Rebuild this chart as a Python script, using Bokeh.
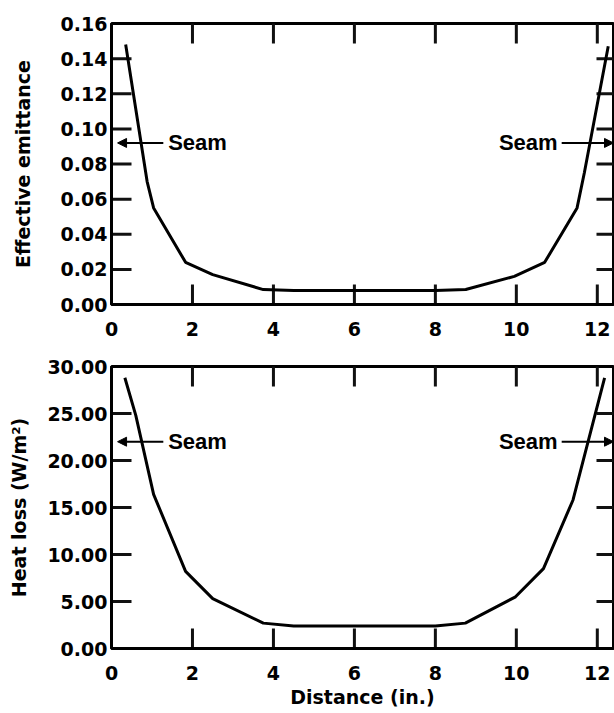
from bokeh.plotting import figure
from bokeh.models import Arrow, NormalHead, FixedTicker, Range1d, Label, CustomJSTickFormatter
from bokeh.layouts import column
from bokeh.embed import file_html
from bokeh.resources import INLINE

# ---- data ----
dist_top = [0.35, 0.88, 1.04, 1.83, 2.5, 3.75, 4.5, 6.25, 8.0, 8.75, 9.95, 10.7, 11.5, 11.68, 12.27]
emittance = [0.148, 0.070, 0.055, 0.024, 0.017, 0.0085, 0.008, 0.008, 0.008, 0.0085, 0.016, 0.024, 0.055, 0.075, 0.147]

dist_bot = [0.33, 0.6, 1.04, 1.83, 2.5, 3.75, 4.5, 6.25, 8.0, 8.74, 9.98, 10.67, 11.4, 12.18]
heat_loss = [28.8, 24.8, 16.4, 8.2, 5.3, 2.7, 2.4, 2.4, 2.4, 2.7, 5.5, 8.5, 15.8, 28.8]

x_ticks = [0, 2, 4, 6, 8, 10, 12]
y_ticks_top = [0.0, 0.02, 0.04, 0.06, 0.08, 0.10, 0.12, 0.14, 0.16]
y_ticks_bot = [0, 5, 10, 15, 20, 25, 30]

X_MAX = 12.4
Y_MAX_TOP = 0.16
Y_MAX_BOT = 30

# seam annotations
seam_y_top = 0.092
seam_y_bot = 22.0
seam_left = dict(x0=1.28, x1=0.15, tx=1.40)
seam_right = dict(x0=11.12, x1=12.40, tx=11.02)

FONT = "DejaVu Sans"
FW = 502
TICK_FILL = "#111111"


def style(p, yticks, ymax):
    p.xaxis.ticker = FixedTicker(ticks=x_ticks)
    p.yaxis.ticker = FixedTicker(ticks=yticks)
    for ax in p.axis:
        ax.axis_line_width = 3
        ax.axis_line_color = "black"
        ax.major_tick_line_color = None
        ax.major_tick_in = 0
        ax.major_tick_out = 0
        ax.minor_tick_line_color = None
        ax.major_label_text_font = FONT
        ax.major_label_text_font_style = "bold"
        ax.major_label_text_font_size = "19px"
        ax.major_label_text_color = "black"
        ax.axis_label_text_font = FONT
        ax.axis_label_text_font_style = "bold"
        ax.axis_label_text_font_size = "19px"
        ax.axis_label_text_color = "black"
    p.yaxis.formatter = CustomJSTickFormatter(code="return tick.toFixed(2);")
    p.xaxis.major_label_standoff = 17
    p.yaxis.major_label_standoff = 4
    p.xgrid.grid_line_color = None
    p.ygrid.grid_line_color = None
    p.outline_line_color = "black"
    p.outline_line_width = 3
    # inward ticks: rectangles centred on the frame edges (clipped to the frame),
    # sized in screen pixels
    inner_y = [t for t in yticks if 0 < t < ymax]
    inner_x = [t for t in x_ticks if 0 < t < X_MAX]
    n, m = len(inner_y), len(inner_x)
    p.rect(x=[0.0] * n, y=inner_y, width=40, height=3, width_units="screen", height_units="screen",
           fill_color=TICK_FILL, line_color=None)
    p.rect(x=[X_MAX] * n, y=inner_y, width=34, height=3, width_units="screen", height_units="screen",
           fill_color=TICK_FILL, line_color=None)
    p.rect(x=inner_x, y=[0.0] * m, width=3, height=40, width_units="screen", height_units="screen",
           fill_color=TICK_FILL, line_color=None)
    p.rect(x=inner_x, y=[ymax] * m, width=3, height=40, width_units="screen", height_units="screen",
           fill_color=TICK_FILL, line_color=None)


def seams(p, y):
    for s, align in ((seam_left, "left"), (seam_right, "right")):
        p.add_layout(Arrow(end=NormalHead(size=9, fill_color="black", line_color="black", line_width=1),
                           x_start=s["x0"], y_start=y, x_end=s["x1"], y_end=y,
                           line_width=2, line_color="black"))
        p.add_layout(Label(x=s["tx"], y=y, text="Seam", text_align=align, text_baseline="middle",
                           text_font="Liberation Sans", text_font_style="bold",
                           text_font_size="22px", text_color="black"))


p1 = figure(frame_width=FW, frame_height=281, output_backend="svg", toolbar_location=None,
            x_range=Range1d(0, X_MAX), y_range=Range1d(0, Y_MAX_TOP),
            min_border_left=111, min_border_top=23, min_border_right=1, min_border_bottom=10)
style(p1, y_ticks_top, Y_MAX_TOP)
p1.line(dist_top, emittance, line_width=3, line_color="black")
p1.yaxis.axis_label = "Effective emittance"
p1.yaxis.axis_label_standoff = 24
seams(p1, seam_y_top)

p2 = figure(frame_width=FW, frame_height=282, output_backend="svg", toolbar_location=None,
            x_range=Range1d(0, X_MAX), y_range=Range1d(0, Y_MAX_BOT),
            min_border_left=111, min_border_top=28, min_border_right=1, min_border_bottom=0)
style(p2, y_ticks_bot, Y_MAX_BOT)
p2.line(dist_bot, heat_loss, line_width=3, line_color="black")
p2.yaxis.axis_label = "Heat loss (W/m²)"
p2.xaxis.axis_label = "Distance (in.)"
p2.yaxis.axis_label_standoff = 14
p2.xaxis.axis_label_standoff = 3
seams(p2, seam_y_bot)

layout = column(p1, p2, spacing=0)
open("out.html", "w").write(file_html(layout, INLINE))
